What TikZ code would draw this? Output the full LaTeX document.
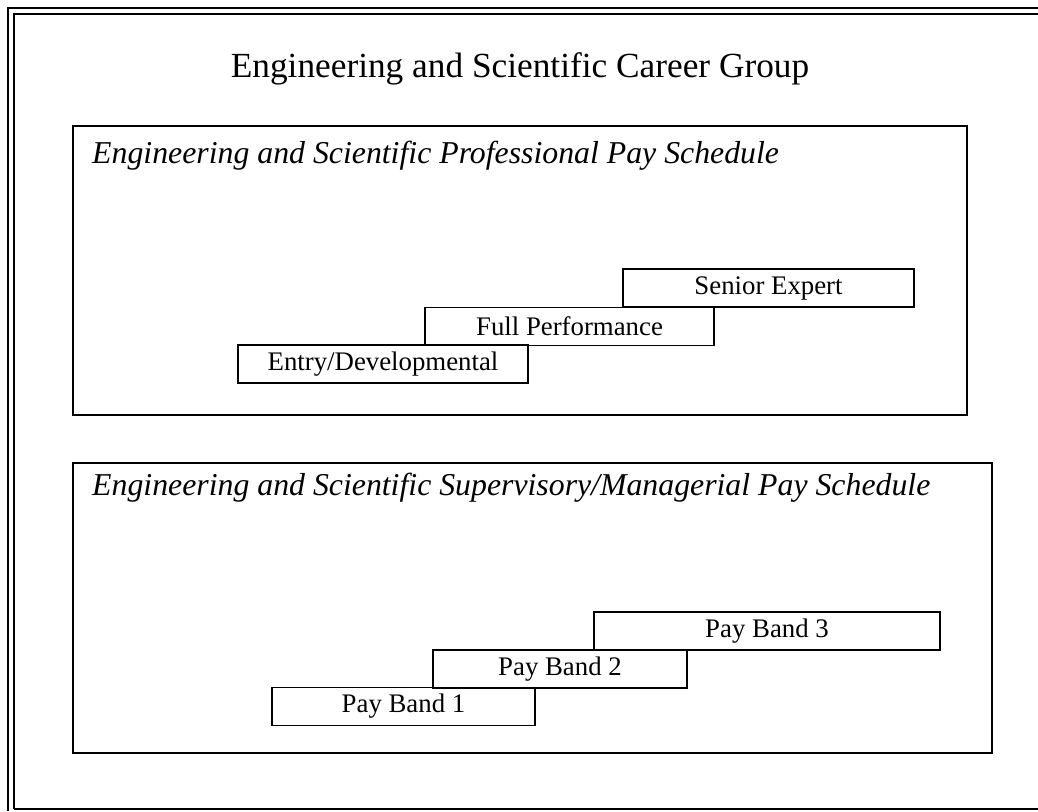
\documentclass[tikz,border=0pt]{standalone}
\usepackage{fontspec}
\setmainfont{Liberation Serif}

\tikzset{
  schedbox/.style={draw, line width=1.6pt, anchor=north west, inner sep=0pt},
  bandbox/.style={draw, line width=1.2pt, minimum height=38pt, inner sep=0pt,
    font=\fontsize{26.8}{30}\selectfont},
  headline/.style={anchor=base west, inner sep=0pt, font=\fontsize{31.8}{36}\selectfont\itshape},
}

\begin{document}
\begin{tikzpicture}[x=1pt,y=-1pt]
  \useasboundingbox (0,0) rectangle (1038,811);

  % outer frame (right side cut off)
  \draw[line width=2.4pt] (8,811) -- (8,8) -- (1038,8);
  \draw[line width=1.4pt] (14,809) -- (14,14) -- (1038,14);
  \draw[line width=1.4pt] (14,809) -- (1038,809);

  \node[anchor=base, inner sep=0pt, font=\fontsize{35.3}{40}\selectfont] (title) at (520,77)
    {Engineering and Scientific Career Group};

  % professional schedule
  \node[schedbox, minimum width=894pt, minimum height=289pt] (prof) at (72,125) {};
  \node[headline] (proftitle) at (92,163) {Engineering and Scientific Professional Pay Schedule};
  \node[bandbox, minimum width=290pt] (entry) at (383,364) {Entry/Developmental};
  \node[bandbox, minimum width=289pt] (full) at (569.5,326.5) {Full Performance};
  \node[bandbox, minimum width=291pt] (senior) at (768.5,288) {Senior Expert};

  % supervisory/managerial schedule
  \node[schedbox, minimum width=919pt, minimum height=290pt] (super) at (72,462) {};
  \node[headline] (supertitle) at (92,495) {Engineering and Scientific Supervisory/Managerial Pay Schedule};
  \node[bandbox, minimum width=263pt] (band1) at (403.5,706.5) {Pay Band 1};
  \node[bandbox, minimum width=254pt] (band2) at (560,669) {Pay Band 2};
  \node[bandbox, minimum width=346pt] (band3) at (767,631) {Pay Band 3};
\end{tikzpicture}
\end{document}
